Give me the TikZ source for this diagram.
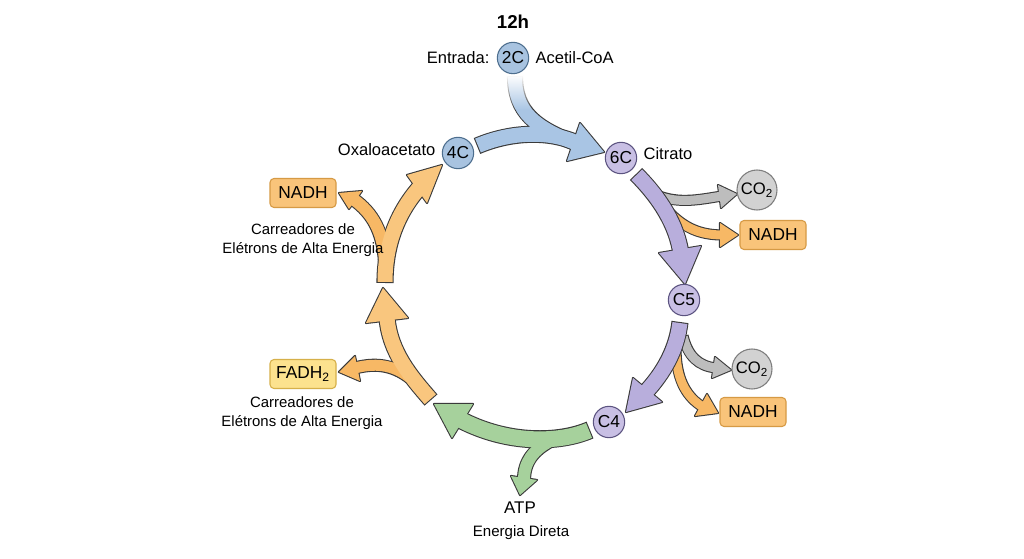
\documentclass[tikz,border=0pt]{standalone}
\usepackage{fontspec}
\setmainfont{Liberation Sans}
\usetikzlibrary{fadings}

\definecolor{rimc}{HTML}{3A3A3A}
\definecolor{blueA}{HTML}{A9C5E4}
\definecolor{blueC}{HTML}{A8C3E0}
\definecolor{blueR}{HTML}{4D6E8E}
\definecolor{lilacA}{HTML}{B8AEDC}
\definecolor{lilacC}{HTML}{C8BFE4}
\definecolor{lilacR}{HTML}{5B5380}
\definecolor{greyA}{HTML}{BDBDBD}
\definecolor{greyC}{HTML}{D2D2D2}
\definecolor{greyR}{HTML}{7E7E7E}
\definecolor{orangeA}{HTML}{F7B865}
\definecolor{orangeB}{HTML}{F9C67E}
\definecolor{nadhF}{HTML}{F9C47A}
\definecolor{nadhR}{HTML}{D69A45}
\definecolor{fadhF}{HTML}{FCE28E}
\definecolor{fadhR}{HTML}{D6B04A}
\definecolor{greenA}{HTML}{A6D19C}

\tikzfading[name=fade down, top color=transparent!0, bottom color=transparent!100]

\tikzset{
  rim/.style={draw=rimc, line width=#1*0.75pt+1.6pt},
  body/.style={line width=#1*0.75pt, shorten <=0.8pt},
  mol/.style={circle, line width=0.8pt, minimum size=23.5pt, inner sep=0pt,
    font=\fontsize{13}{13}\selectfont},
  gas/.style={circle, fill=greyC, draw=greyR, line width=0.8pt, minimum size=30pt,
    inner sep=0pt, font=\fontsize{12.5}{13}\selectfont},
  carrier/.style={rounded corners=3pt, fill=nadhF, draw=nadhR, line width=0.8pt,
    minimum width=49.5pt, minimum height=21.75pt, inner sep=0pt,
    font=\fontsize{13}{13}\selectfont},
  lbl/.style={inner sep=1pt, font=\fontsize{12.4}{14}\selectfont},
  note/.style={inner sep=0pt, align=center, font=\fontsize{11.2}{14}\selectfont},
}

% two passes: dark rim first, then the colour on top
\newcommand{\arrowrim}[3]{%
  \draw[rim=#1] #2;
  \draw[rimc, line width=1.6pt, line join=round] #3 -- cycle;}
\newcommand{\arrowfill}[4]{%
  \draw[body=#1, #2] #3;
  \fill[#2] #4 -- cycle;}

\begin{document}
\begin{tikzpicture}[x=0.75pt, y=-0.75pt]
\useasboundingbox (0,0) rectangle (1024,559);
\fill[white] (0,0) rectangle (1024,559);

% side products of 6C -> C5
\arrowrim{9}{(650,192) .. controls (675,205) and (697,200) .. (722,196)}{(718,185) -- (737,194) -- (721,208)}
\arrowfill{9}{greyA}{(650,192) .. controls (675,205) and (697,200) .. (722,196)}{(718,185) -- (737,194) -- (721,208)}
\arrowrim{9}{(668,211) .. controls (684,228) and (700,235) .. (723,235)}{(720,223) -- (738,235) -- (720,247)}
\arrowfill{9}{orangeA}{(668,211) .. controls (684,228) and (700,235) .. (723,235)}{(720,223) -- (738,235) -- (720,247)}

% side products of C5 -> C4
\arrowrim{9}{(683,336) .. controls (688,356) and (698,366) .. (716,368)}{(715,357) -- (731,370) -- (712,378)}
\arrowfill{9}{greyA}{(683,336) .. controls (688,356) and (698,366) .. (716,368)}{(715,357) -- (731,370) -- (712,378)}
\arrowrim{9}{(676,352) .. controls (677,382) and (688,398) .. (703,407)}{(707,394) -- (718,413) -- (695,416)}
\arrowfill{9}{orangeA}{(676,352) .. controls (677,382) and (688,398) .. (703,407)}{(707,394) -- (718,413) -- (695,416)}

% purple steps
\arrowrim{15}{(636,174) .. controls (660,198) and (677,225) .. (681,254)}{(659,253) -- (685,284) -- (701,246)}
\arrowfill{15}{lilacA}{(636,174) .. controls (660,198) and (677,225) .. (681,254)}{(659,253) -- (685,284) -- (701,246)}
\arrowrim{15}{(680,322) .. controls (677,348) and (665,372) .. (644,394)}{(633,378) -- (626,412) -- (662,402)}
\arrowfill{15}{lilacA}{(680,322) .. controls (677,348) and (665,372) .. (644,394)}{(633,378) -- (626,412) -- (662,402)}

% entry of acetyl-CoA
\draw[rim=14] (515,76) .. controls (515,112) and (535,128) .. (578,144);
\arrowrim{15}{(477,146) .. controls (510,132) and (548,130) .. (577,143)}{(580,123) -- (604,152) -- (567,161)}
\draw[body=14, blueA] (515,76) .. controls (515,112) and (535,128) .. (578,144);
\arrowfill{15}{blueA}{(477,146) .. controls (510,132) and (548,130) .. (577,143)}{(580,123) -- (604,152) -- (567,161)}
\fill[white, path fading=fade down] (500,75) rectangle (531,110);

% C4 -> ATP
\arrowrim{12}{(552,440) .. controls (533,450) and (524,462) .. (524,480)}{(511,476) -- (520,495) -- (537,480)}
\arrowrim{16}{(590,430) .. controls (560,443) and (508,445) .. (459,419)}{(473,404) -- (434,404) -- (452,438)}
\arrowfill{12}{greenA}{(552,440) .. controls (533,450) and (524,462) .. (524,480)}{(511,476) -- (520,495) -- (537,480)}
\arrowfill{16}{greenA}{(590,430) .. controls (560,443) and (508,445) .. (459,419)}{(473,404) -- (434,404) -- (452,438)}

% FADH2 step
\arrowrim{11}{(410,378) .. controls (392,364) and (374,363) .. (355,368)}{(355,356) -- (339,372) -- (360,381)}
\arrowrim{15}{(431,400) .. controls (410,376) and (390,352) .. (387,318)}{(366,323) -- (383,288) -- (408,318)}
\arrowfill{11}{orangeA}{(410,378) .. controls (392,364) and (374,363) .. (355,368)}{(355,356) -- (339,372) -- (360,381)}
\arrowfill{15}{orangeB}{(431,400) .. controls (410,376) and (390,352) .. (387,318)}{(366,323) -- (383,288) -- (408,318)}

% NADH step back to 4C
\arrowrim{12}{(385,262) .. controls (383,232) and (373,213) .. (353,199)}{(362,191) -- (339,193) -- (349,209)}
\arrowrim{15}{(385,283) .. controls (385,245) and (397,213) .. (420,187)}{(407,175) -- (442,165) -- (427,203)}
\arrowfill{12}{orangeA}{(385,262) .. controls (383,232) and (373,213) .. (353,199)}{(362,191) -- (339,193) -- (349,209)}
\arrowfill{15}{orangeB}{(385,283) .. controls (385,245) and (397,213) .. (420,187)}{(407,175) -- (442,165) -- (427,203)}

% molecules
\node[mol, fill=blueC, draw=blueR] (c2) at (513,58) {2C};
\node[mol, fill=blueC, draw=blueR] (oxa) at (458,153) {4C};
\node[mol, fill=lilacC, draw=lilacR] (cit) at (621,158) {6C};
\node[mol, fill=lilacC, draw=lilacR] (c5) at (684,300) {C5};
\node[mol, fill=lilacC, draw=lilacR] (c4) at (609,422) {C4};
\node[gas] (co2a) at (757,190) {CO\textsubscript{2}};
\node[gas] (co2b) at (752,369) {CO\textsubscript{2}};
\node[carrier] (nadha) at (773,235) {NADH};
\node[carrier] (nadhb) at (753,412) {NADH};
\node[carrier] (nadhc) at (303,193) {NADH};
\node[carrier, fill=fadhF, draw=fadhR] (fadh) at (303,374) {FADH\textsubscript{2}};

% labels
\node[font=\bfseries\fontsize{14}{16}\selectfont] (hour) at (513,22) {12h};
\node[lbl, anchor=east] (entry) at (491,58) {Entrada:};
\node[lbl, anchor=west] (acoa) at (534,58) {Acetil-CoA};
\node[lbl, anchor=east] (oxaname) at (437,150) {Oxaloacetato};
\node[lbl, anchor=west] (citname) at (642,154) {Citrato};
\node[note] (carra) at (303,240) {Carreadores de\\Elétrons de Alta Energia};
\node[note] (carrb) at (302,413) {Carreadores de\\Elétrons de Alta Energia};
\node[font=\fontsize{12.7}{14}\selectfont] (atp) at (520,508) {ATP};
\node[font=\fontsize{11.3}{14}\selectfont] (direct) at (521,533) {Energia Direta};

\end{tikzpicture}
\end{document}
